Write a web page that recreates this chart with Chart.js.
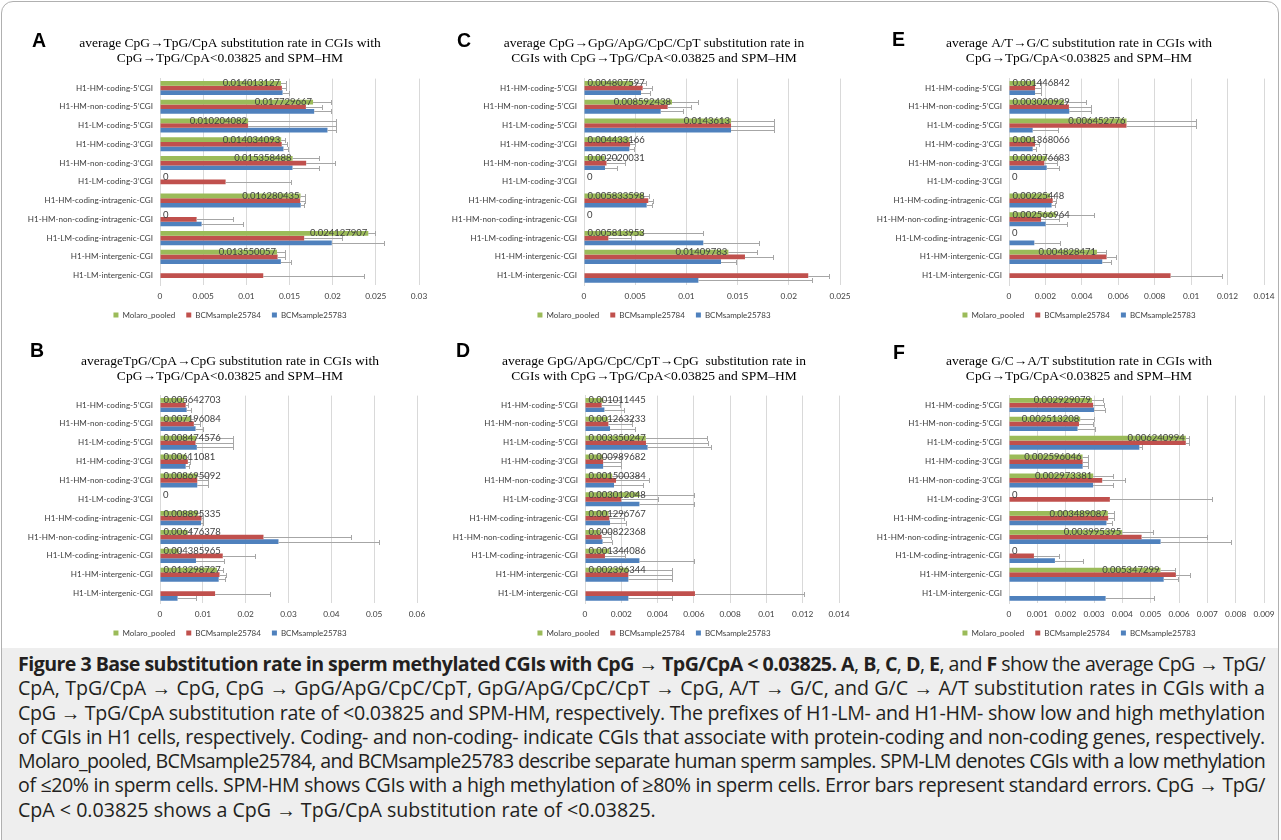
<!DOCTYPE html>
<html>
<head>
<meta charset="utf-8">
<script src="https://cdn.jsdelivr.net/npm/chart.js@4.4.0/dist/chart.umd.min.js"></script>
<style>
body{margin:0;background:#fff;}
#page{position:relative;width:1281px;height:840px;overflow:hidden;}
.frame{position:absolute;left:1px;top:1px;width:1276px;height:900px;border:1px solid #b0b0b0;border-radius:12px;}
canvas{position:absolute;}
.lt{position:absolute;font:bold 19.5px "Liberation Sans",Arial,sans-serif;line-height:19.5px;color:#000;}
#cap{position:absolute;left:2px;top:648px;width:1276px;height:200px;background:#eeeeee;}
#capText{position:absolute;left:18px;top:652px;width:1247px;font:17px "Open Sans",sans-serif;line-height:24.3px;color:#231f20;}
#capText div{white-space:nowrap;text-align:left;}
#capText div.just{text-align:justify;text-align-last:justify;}
</style>
</head>
<body>
<div id="page">
<div class="frame"></div>
<div id="cap"></div>
<canvas id="chA" width="420" height="297" style="left:20px;top:32px"></canvas>
<canvas id="chB" width="420" height="297" style="left:20px;top:350px"></canvas>
<canvas id="chC" width="420" height="297" style="left:444px;top:32px"></canvas>
<canvas id="chD" width="420" height="297" style="left:444px;top:350px"></canvas>
<canvas id="chE" width="404" height="297" style="left:877px;top:32px"></canvas>
<canvas id="chF" width="404" height="297" style="left:877px;top:350px"></canvas>
<div class="lt" style="left:32px;top:30.5px">A</div>
<div class="lt" style="left:30px;top:341px">B</div>
<div class="lt" style="left:457px;top:31px">C</div>
<div class="lt" style="left:456px;top:341px">D</div>
<div class="lt" style="left:892px;top:29.5px">E</div>
<div class="lt" style="left:893px;top:342.5px">F</div>
<div id="capText">
<div><span><b>Figure 3 Base substitution rate in sperm methylated CGIs with CpG → TpG/CpA &lt; 0.03825.</b> <b>A</b>, <b>B</b>, <b>C</b>, <b>D</b>, <b>E</b>, and <b>F</b> show the average CpG → TpG/</span></div>
<div><span>CpA, TpG/CpA → CpG, CpG → GpG/ApG/CpC/CpT, GpG/ApG/CpC/CpT → CpG, A/T → G/C, and G/C → A/T substitution rates in CGIs with a</span></div>
<div><span>CpG → TpG/CpA substitution rate of &lt;0.03825 and SPM-HM, respectively. The prefixes of H1-LM- and H1-HM- show low and high methylation</span></div>
<div><span>of CGIs in H1 cells, respectively. Coding- and non-coding- indicate CGIs that associate with protein-coding and non-coding genes, respectively.</span></div>
<div><span>Molaro_pooled, BCMsample25784, and BCMsample25783 describe separate human sperm samples. SPM-LM denotes CGIs with a low methylation</span></div>
<div><span>of ≤20% in sperm cells. SPM-HM shows CGIs with a high methylation of ≥80% in sperm cells. Error bars represent standard errors. CpG → TpG/</span></div>
<div><span>CpA &lt; 0.03825 shows a CpG → TpG/CpA substitution rate of &lt;0.03825.</span></div>
</div>
</div>
<script>
// categories and series names, shared by all six panels
var categories = ["H1-HM-coding-5’CGI", "H1-HM-non-coding-5’CGI", "H1-LM-coding-5’CGI", "H1-HM-coding-3’CGI",
  "H1-HM-non-coding-3’CGI", "H1-LM-coding-3’CGI", "H1-HM-coding-intragenic-CGI", "H1-HM-non-coding-intragenic-CGI",
  "H1-LM-coding-intragenic-CGI", "H1-HM-intergenic-CGI", "H1-LM-intergenic-CGI"];
var seriesNames = ["Molaro_pooled", "BCMsample25784", "BCMsample25783"];

// A: CpG -> TpG/CpA
var aMolaro = [0.014013127, 0.017729667, 0.010204082, 0.014034093, 0.015358488, 0, 0.016280435, 0, 0.024127907, 0.013550057, null];
var aBCM84  = [0.01412, 0.0169, 0.010204, 0.0141, 0.01693, 0.0076, 0.01624, 0.00424, 0.0167, 0.01362, 0.01196];
var aBCM83  = [0.0142, 0.01786, 0.0194, 0.0143, 0.01535, 0, 0.0163, 0.00482, 0.0199, 0.014, 0];
var aErrMolaro = [0.0006, 0.0021, 0.0102, 0.0005, 0.0031, 0, 0.0005, 0, 0.0008, 0.0009, 0];
var aErr84     = [0.0005, 0.0019, 0.0102, 0.0006, 0.0033, 0.0076, 0.0005, 0.0042, 0.0044, 0.0009, 0.0117];
var aErr83     = [0.0007, 0.0019, 0.001, 0.0005, 0.0031, 0, 0.0004, 0.0048, 0.006, 0.0012, 0];
var aTicks = ["0", "0.005", "0.01", "0.015", "0.02", "0.025", "0.03"];

// B: TpG/CpA -> CpG
var bMolaro = [0.005642703, 0.007196084, 0.008474576, 0.00611081, 0.008695092, 0, 0.008895335, 0.006476378, 0.004385965, 0.013298727, null];
var bBCM84  = [0.006, 0.0079, 0.0083, 0.0065, 0.0087, 0, 0.0097, 0.02416, 0.01465, 0.0139, 0.01286];
var bBCM83  = [0.00623, 0.0083, 0.0086, 0.006, 0.0087, 0, 0.0096, 0.02766, 0.0084, 0.0137, 0.0041];
var bErrMolaro = [0.0004, 0.0008, 0.0085, 0.0005, 0.0026, 0, 0.0004, 0.0005, 0.0004, 0.0013, 0];
var bErr84     = [0.0005, 0.0015, 0.0087, 0.0006, 0.0026, 0, 0.0004, 0.0205, 0.0075, 0.0014, 0.0128];
var bErr83     = [0.0009, 0.0017, 0.0084, 0.0007, 0.0025, 0, 0.0004, 0.0234, 0.0066, 0.0015, 0.0043];
var bTicks = ["0", "0.01", "0.02", "0.03", "0.04", "0.05", "0.06"];

// C: CpG -> GpG/ApG/CpC/CpT
var cMolaro = [0.004807597, 0.008592438, 0.0143613, 0.004433166, 0.002020031, 0, 0.005833598, 0, 0.005813953, 0.01409783, null];
var cBCM84  = [0.00573, 0.00817, 0.01436, 0.0045, 0.0022, 0, 0.00628, 0, 0.00238, 0.01572, 0.0219];
var cBCM83  = [0.00557, 0.00749, 0.01436, 0.00443, 0.00205, 0, 0.00612, 0, 0.01165, 0.01338, 0.01117];
var cErrMolaro = [0.0012, 0.0025, 0.0042, 0.0005, 0.0012, 0, 0.0005, 0, 0.0058, 0.0028, 0];
var cErr84     = [0.0009, 0.0023, 0.0042, 0.0005, 0.0018, 0, 0.0005, 0, 0.0022, 0.0027, 0.002];
var cErr83     = [0.0009, 0.0022, 0.0042, 0.0005, 0.0012, 0, 0.0005, 0, 0.0054, 0.0015, 0.0111];
var cTicks = ["0", "0.005", "0.01", "0.015", "0.02", "0.025"];

// D: GpG/ApG/CpC/CpT -> CpG
var dMolaro = [0.001011445, 0.001263233, 0.003350247, 0.000989682, 0.001500384, 0.003012048, 0.001296767, 0.000822368, 0.001344086, 0.002396344, null];
var dBCM84  = [0.00092, 0.00129, 0.00336, 0.001, 0.00171, 0.002, 0.00134, 0.00092, 0.0011, 0.00239, 0.00606];
var dBCM83  = [0.00107, 0.00138, 0.00345, 0.001, 0.0016, 0.003, 0.00138, 0.00097, 0.003, 0.00239, 0.00239];
var dErrMolaro = [0.0009, 0.0013, 0.0034, 0.001, 0.0014, 0.003, 0.00085, 0.0006, 0.0008, 0.0024, 0];
var dErr84     = [0.001, 0.0013, 0.0034, 0.001, 0.0018, 0.002, 0.0008, 0.0005, 0.0011, 0.0024, 0.006];
var dErr83     = [0.0011, 0.0014, 0.0035, 0.001, 0.0016, 0.003, 0.0009, 0.0005, 0.003, 0.0024, 0.0024];
var dTicks = ["0", "0.002", "0.004", "0.006", "0.008", "0.01", "0.012", "0.014"];

// E: A/T -> G/C
var eMolaro = [0.001446842, 0.003020929, 0.006452776, 0.001368066, 0.002076683, 0, 0.00225448, 0.002566964, 0, 0.004828471, null];
var eBCM84  = [0.00143, 0.00329, 0.00645, 0.00143, 0.00194, 0, 0.0024, 0.00176, 0, 0.00536, 0.00887];
var eBCM83  = [0.00143, 0.00331, 0.0013, 0.0013, 0.00207, 0, 0.00234, 0.00201, 0.00139, 0.00512, 0];
var eErrMolaro = [0.0003, 0.0012, 0.0038, 0.0002, 0.0006, 0, 0.0002, 0.0021, 0, 0.0005, 0];
var eErr84     = [0.0003, 0.0012, 0.0038, 0.0002, 0.0007, 0, 0.0002, 0.001, 0, 0.0005, 0.0028];
var eErr83     = [0.0003, 0.0012, 0.0014, 0.0002, 0.0007, 0, 0.0002, 0.0012, 0.0014, 0.0005, 0];
var eTicks = ["0", "0.002", "0.004", "0.006", "0.008", "0.01", "0.012", "0.014"];

// F: G/C -> A/T
var fMolaro = [0.002929079, 0.002513208, 0.006240994, 0.002596046, 0.002973381, 0, 0.003489087, 0.003995395, 0, 0.005347299, null];
var fBCM84  = [0.00297, 0.00247, 0.00624, 0.0026, 0.00329, 0.00356, 0.0035, 0.00468, 0.00088, 0.00589, 0];
var fBCM83  = [0.003, 0.00242, 0.0046, 0.0026, 0.00297, 0, 0.00344, 0.00535, 0.00162, 0.00546, 0.00341];
var fErrMolaro = [0.0004, 0.0005, 0.0001, 0.0002, 0.0007, 0, 0.0002, 0.0011, 0, 0.0005, 0];
var fErr84     = [0.0004, 0.0005, 0.0001, 0.0002, 0.0008, 0.0036, 0.0002, 0.0023, 0.0009, 0.0005, 0];
var fErr83     = [0.0004, 0.0006, 0.0001, 0.0002, 0.0007, 0, 0.0002, 0.0025, 0.001, 0.0005, 0.0017];
var fTicks = ["0", "0.001", "0.002", "0.003", "0.004", "0.005", "0.006", "0.007", "0.008", "0.009"];

var colors = ["#9BBB59", "#C0504D", "#4F81BD"];

Chart.defaults.font.family = "Lato, sans-serif";
Chart.defaults.color = "#404040";

// plus-only error bars with a small cap, like excel
var errorBars = {
  id: "errorBars",
  afterDatasetsDraw: function(chart) {
    var ctx = chart.ctx, xs = chart.scales.x;
    ctx.save();
    ctx.strokeStyle = "#a6a6a6";
    ctx.lineWidth = 1;
    chart.data.datasets.forEach(function(ds, di) {
      chart.getDatasetMeta(di).data.forEach(function(bar, i) {
        var v = ds.data[i], e = ds.errors[i];
        if (v === null || !e) return;
        var x1 = Math.round(xs.getPixelForValue(v + e)) + 0.5;
        var y = Math.round(bar.y) + 0.5;
        ctx.beginPath();
        ctx.moveTo(bar.x, y); ctx.lineTo(x1, y);
        ctx.moveTo(x1, y - 2.5); ctx.lineTo(x1, y + 2.5);
        ctx.stroke();
      });
    });
    ctx.restore();
  }
};

// value labels only on the Molaro_pooled bars (inside end)
var molaroLabels = {
  id: "molaroLabels",
  afterDatasetsDraw: function(chart) {
    var ctx = chart.ctx;
    var ds = chart.data.datasets[0];
    ctx.save();
    ctx.font = "9.5px Lato, sans-serif";
    ctx.fillStyle = "#404040";
    ctx.textBaseline = "middle";
    chart.getDatasetMeta(0).data.forEach(function(bar, i) {
      var v = ds.data[i];
      if (v === null) return;
      var txt = String(v);
      var w = ctx.measureText(txt).width;
      var x = bar.x - w - 1;
      if (x < bar.base + 3) x = bar.base + 3;
      ctx.fillText(txt, x, bar.y);
    });
    ctx.restore();
  }
};

// yw = distance from canvas left to the zero line, padR = space right of the last gridline
function panel(id, title, values, errs, tickLabels, yw, padR, titlePadB) {
  var tickVals = tickLabels.map(Number);
  return new Chart(document.getElementById(id), {
    type: "bar",
    data: {
      labels: categories,
      datasets: values.map(function(v, k) {
        return { label: seriesNames[k], data: v, errors: errs[k], backgroundColor: colors[k],
                 categoryPercentage: 0.75, barPercentage: 1.0 };
      })
    },
    options: {
      indexAxis: "y",
      responsive: false,
      animation: false,
      devicePixelRatio: 1,
      layout: { padding: 0 },
      scales: {
        x: {
          min: 0, max: tickVals[tickVals.length - 1],
          afterBuildTicks: function(s) { s.ticks = tickVals.map(function(v) { return { value: v }; }); },
          ticks: { callback: function(v, i) { return tickLabels[i]; }, font: { size: 8.3 }, padding: 6, autoSkip: false, maxRotation: 0 },
          grid: { color: "#d9d9d9", drawTicks: false },
          border: { display: false },
          afterFit: function(s) { s.height = 15; }
        },
        y: {
          ticks: { font: { size: 8.1 }, padding: 7, autoSkip: false },
          grid: { display: false, drawTicks: false },
          border: { color: "#d9d9d9" },
          afterFit: function(s) { s.width = yw; }
        },
        // empty right-hand axis, only reserves the margin so title and legend stay centred on the canvas
        yRight: {
          type: "category", position: "right",
          ticks: { display: false }, grid: { display: false, drawTicks: false }, border: { display: false },
          afterFit: function(s) { s.width = padR; }
        }
      },
      plugins: {
        title: { display: true, text: title, color: "#000",
                 font: { family: '"Liberation Serif", "Times New Roman", serif', size: 13.5, weight: "normal", lineHeight: "15px" },
                 padding: { top: 4, bottom: titlePadB } },
        legend: { position: "bottom", labels: { boxWidth: 5, boxHeight: 5, padding: 11, font: { size: 8 } } },
        tooltip: { enabled: false }
      }
    },
    plugins: [errorBars, molaroLabels]
  });
}

panel("chA", ["average CpG→TpG/CpA substitution rate in CGIs with", "CpG→TpG/CpA<0.03825 and SPM–HM"],
  [aMolaro, aBCM84, aBCM83], [aErrMolaro, aErr84, aErr83], aTicks, 140, 21, 12.6);
panel("chB", ["averageTpG/CpA→CpG substitution rate in CGIs with", "CpG→TpG/CpA<0.03825 and SPM–HM"],
  [bMolaro, bBCM84, bBCM83], [bErrMolaro, bErr84, bErr83], bTicks, 140, 23, 11.6);
panel("chC", ["average CpG→GpG/ApG/CpC/CpT substitution rate in", "CGIs with CpG→TpG/CpA<0.03825 and SPM–HM"],
  [cMolaro, cBCM84, cBCM83], [cErrMolaro, cErr84, cErr83], cTicks, 140, 24, 12.6);
panel("chD", ["average GpG/ApG/CpC/CpT→CpG  substitution rate in", "CGIs with CpG→TpG/CpA<0.03825 and SPM–HM"],
  [dMolaro, dBCM84, dBCM83], [dErrMolaro, dErr84, dErr83], dTicks, 141, 25, 11.6);
panel("chE", ["average A/T→G/C substitution rate in CGIs with", "CpG→TpG/CpA<0.03825 and SPM–HM"],
  [eMolaro, eBCM84, eBCM83], [eErrMolaro, eErr84, eErr83], eTicks, 132, 17, 12.6);
panel("chF", ["average G/C→A/T substitution rate in CGIs with", "CpG→TpG/CpA<0.03825 and SPM–HM"],
  [fMolaro, fBCM84, fBCM83], [fErrMolaro, fErr84, fErr83], fTicks, 132, 17, 11.6);

// caption: size the font from the last (ragged) line, then justify the others
var capBox = document.getElementById("capText");
var lines = capBox.querySelectorAll("div");
var lastSpan = lines[lines.length - 1].firstChild;
var fs = 17 * 638 / lastSpan.getBoundingClientRect().width;
capBox.style.fontSize = fs + "px";
for (var i = 0; i < lines.length - 1; i++) {
  var sp = lines[i].firstChild;
  var w = sp.getBoundingClientRect().width;
  if (w > 1246) sp.style.letterSpacing = ((1246 - w) / sp.textContent.length) + "px";
  lines[i].className = "just";
}
</script>
</body>
</html>
